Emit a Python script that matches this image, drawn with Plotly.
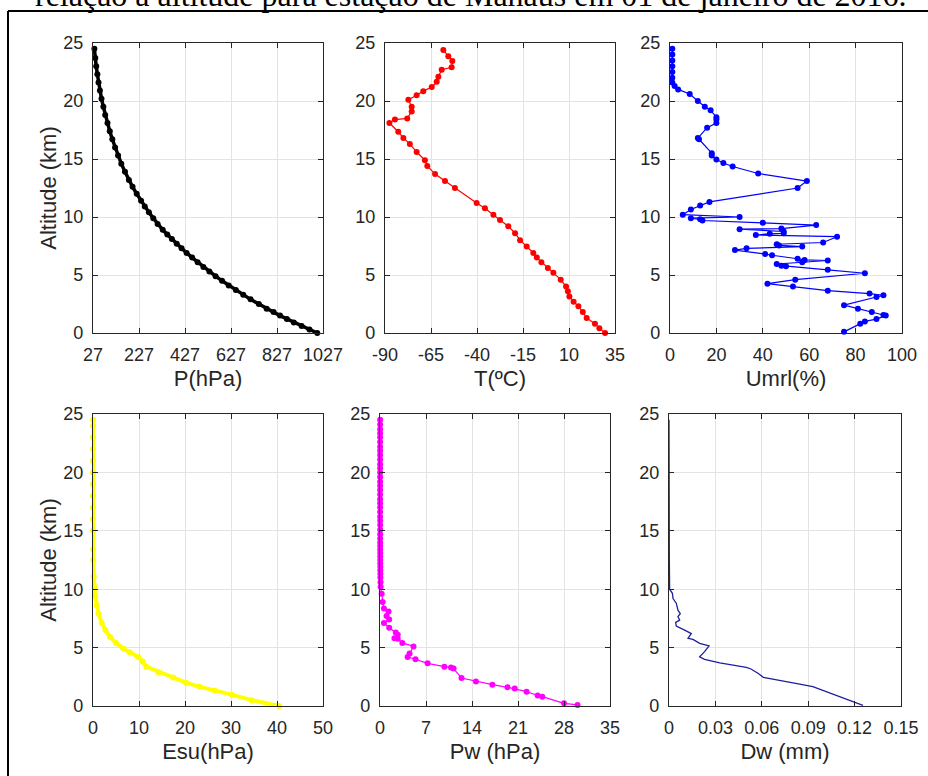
import plotly.graph_objects as go

W, H = 928, 776

# ---------------- data ----------------
p_alt = [0.0, 0.3, 0.6, 0.9, 1.2, 1.5, 1.8, 2.1, 2.5, 2.9, 3.3, 3.7, 4.1, 4.5, 4.9, 5.3, 5.7, 6.1,
         6.5, 6.9, 7.3, 7.7, 8.1, 8.5, 8.9, 9.4, 9.9, 10.4, 10.9, 11.4, 12.0, 12.6, 13.2, 13.9,
         14.6, 15.3, 16.0, 16.7, 17.4, 18.1, 18.8, 19.5, 20.2, 20.9, 21.6, 22.3, 23.0, 23.7, 24.5]
p_hpa = [1002, 968, 934, 900, 870, 840, 812, 782, 748, 712, 680, 648, 617, 588, 560, 533, 507, 482,
         458, 434, 412, 391, 370, 350, 330, 308, 289, 270, 252, 236, 217, 199, 183, 166,
         150, 136, 123, 111, 100, 90, 80, 72, 64, 57, 51, 46, 41, 37, 33]

t_alt = [0.0, 0.4, 0.8, 1.3, 1.8, 2.3, 2.7, 3.15, 3.6, 4.0, 4.6, 5.2, 5.6, 6.1, 6.5, 6.9, 7.45,
         8.0, 8.6, 9.2, 9.75, 10.2, 10.75, 11.2, 12.5, 13.1, 13.7, 14.4, 14.9, 15.6, 16.3, 16.8,
         17.35, 18.1, 18.4, 18.5, 19.1, 19.5, 20.1, 20.5, 20.85, 21.2, 21.65, 22.1, 22.7, 22.9,
         23.45, 23.85, 24.4]
t_c = [29.6, 26.5, 24.1, 19.6, 17.5, 15.1, 12.5, 10.2, 9.4, 8.4, 5.5, 1.5, -1.5, -5.0, -7.5, -9.4, -13.0,
       -16.6, -19.3, -23.0, -27.5, -31.1, -35.7, -40.2, -52.0, -57.4, -62.8, -67.0, -68.3, -72.8, -76.5, -80.0,
       -82.8, -87.6, -84.6, -77.9, -75.5, -75.5, -77.3, -72.8, -69.2, -64.6, -61.9, -61.0, -59.2, -53.8,
       -53.4, -55.6, -58.3]

u_alt = [0.1, 0.8, 1.0, 1.2, 1.5, 1.55, 1.8, 2.1, 2.4, 3.1, 3.25, 3.4, 3.65, 4.0, 4.25, 4.6, 5.15,
         5.45, 5.75, 5.8, 5.95, 6.1, 6.25, 6.3, 6.4, 6.7, 6.8, 7.15, 7.3, 7.45, 7.55, 7.65, 7.8, 8.3,
         8.45, 8.55, 8.6, 8.75, 8.95, 9.0, 9.3, 9.5, 9.7, 9.8, 9.9, 10.0, 10.2, 10.65, 11.0, 11.3,
         12.5, 13.1, 13.75, 14.35, 14.65, 14.95, 15.3, 15.5, 16.7, 16.8, 17.7, 18.1, 18.4, 18.6,
         19.2, 19.5, 20.0, 20.6, 21.0, 21.3, 21.6, 22.0, 22.5, 23.0, 23.5, 24.0, 24.5]
u_pct = [75, 82, 84, 89, 93, 92, 87, 81, 75, 89, 92, 86, 68, 53, 42, 54, 84,
         68, 50, 48, 46, 57, 68, 58, 55, 44, 41, 28, 33, 57, 47, 46, 66, 72,
         37, 43, 49, 49, 30, 48, 63, 40, 14, 13, 9, 30, 5.5, 9, 13, 17,
         55, 59, 38, 27, 23, 20, 18, 18, 12.5, 12, 16, 20, 20, 20,
         17.5, 15, 12, 8.5, 3.5, 2, 1, 1, 1, 1, 1, 1, 1]

e_alt = [0.0, 0.5, 0.95, 1.3, 1.66, 2.0, 2.45, 2.9, 3.37, 3.8, 4.2, 4.6, 4.9, 5.4, 5.9, 6.5, 7.1,
         7.9, 8.6, 9.4, 10.2, 11.1, 12.5, 13.4, 15.0, 16.0, 17.0, 18.0, 19.0, 20.0, 21.0, 22.0,
         23.0, 24.0, 24.5]
e_hpa = [40.5, 34.5, 30.3, 26.5, 23.1, 20.2, 17.4, 14.2, 11.6, 10.8, 9.8, 8.0, 6.6, 5.0, 3.7, 2.7, 1.9,
         1.2, 0.8, 0.5, 0.3, 0.15, 0.08, 0.05, 0.03, 0.02, 0.01, 0.01, 0.01, 0.02, 0.02, 0.03,
         0.03, 0.03, 0.03]

w_alt = [0.09, 0.23, 0.8, 0.9, 1.23, 1.5, 1.6, 1.83, 2.1, 2.4, 3.2, 3.3, 3.37, 3.65, 4.0, 4.2, 4.5,
         5.1, 5.4, 5.75, 5.8, 6.1, 6.3, 6.7, 7.1, 7.4, 7.7, 8.1, 8.35, 8.9, 9.6, 10.2, 10.6, 11.0,
         11.3, 11.6, 11.9, 12.2, 12.5, 12.8, 13.1, 13.4, 13.7, 14.0, 14.35, 14.7, 15.1, 15.5, 15.85,
         16.2, 16.6, 17.0, 17.35, 17.7, 18.1, 18.5, 18.85, 19.2, 19.6, 20.0, 20.35, 20.7, 21.1,
         21.5, 21.85, 22.2, 22.6, 23.0, 23.35, 23.7, 24.1, 24.5]
w_hpa = [30.06, 28.0, 24.7, 24.0, 22.3, 20.5, 19.4, 17.1, 14.6, 12.4, 11.2, 10.8, 9.8, 7.25, 5.4, 4.2, 4.5,
         5.1, 3.4, 2.7, 2.2, 2.7, 2.4, 1.4, 0.6, 1.4, 1.0, 1.3, 0.6, 0.4, 0.25, 0.1, 0.08, 0.06,
         0.06, 0.05, 0.05, 0.04, 0.04, 0.04, 0.04, 0.03, 0.03, 0.03, 0.03, 0.03, 0.03, 0.03, 0.03,
         0.02, 0.02, 0.02, 0.02, 0.02, 0.02, 0.02, 0.02, 0.02, 0.02, 0.02, 0.02, 0.02, 0.02,
         0.02, 0.02, 0.02, 0.02, 0.02, 0.02, 0.02, 0.02, 0.02]

d_alt = [0.06, 0.37, 0.8, 1.37, 1.66, 1.88, 2.23, 2.45, 2.8, 3.17, 3.3, 3.7, 4.0, 4.22, 4.65, 5.14,
         5.37, 5.7, 5.8, 6.2, 6.5, 6.85, 7.16, 7.35, 7.65, 7.9, 8.2, 8.8, 9.2, 9.65, 10.0, 12.8, 24.5]
d_mm = [0.1254, 0.119, 0.110, 0.0996, 0.093, 0.0845, 0.069, 0.061, 0.0575, 0.053, 0.050, 0.0328,
        0.023, 0.0198, 0.023, 0.0259, 0.0198, 0.0155, 0.0123, 0.0144, 0.0101, 0.0047, 0.0043,
        0.0069, 0.0058, 0.0073, 0.0058, 0.0047, 0.0026, 0.0022, 0.0004, 0.0002, 0.0]

alt_ticks = [0, 5, 10, 15, 20, 25]
p_ticks = [27, 227, 427, 627, 827, 1027]
t_ticks = [-90, -65, -40, -15, 10, 35]
t_tick_text = ["-90", "-65", "-40", "-15", "10", "35"]
u_ticks = [0, 20, 40, 60, 80, 100]
e_ticks = [0, 10, 20, 30, 40, 50]
w_ticks = [0, 7, 14, 21, 28, 35]
d_ticks = [0, 0.03, 0.06, 0.09, 0.12, 0.15]
d_tick_text = ["0", "0.03", "0.06", "0.09", "0.12", "0.15"]

title_text = "relação à altitude para estação de Manaus em 01 de janeiro de 2016."

# ---------------- figure ----------------
fig = go.Figure()

AX = "#262626"
GRID = "#e3e3e3"
TICK_FONT = dict(family="Liberation Sans, Arial, sans-serif", size=18, color=AX)
TITLE_FONT = dict(family="Liberation Sans, Arial, sans-serif", size=22, color=AX)

# pixel boxes (left, right, top, bottom)
boxes = [
    (93, 323, 43, 333), (385, 615, 43, 333), (670, 902, 43, 333),
    (93, 323, 414, 706), (380, 610, 414, 706), (669, 901, 414, 706),
]

panels = [
    dict(x=p_hpa, y=p_alt, color="#000000", lw=3.5, ms=6, mode="lines+markers",
         rng=[27, 1027], tv=p_ticks, tt=None, title="P(hPa)", ytitle=True),
    dict(x=t_c, y=t_alt, color="#ff0000", lw=1.2, ms=6, mode="lines+markers",
         rng=[-90, 35], tv=t_ticks, tt=t_tick_text, title="T(ºC)", ytitle=False),
    dict(x=u_pct, y=u_alt, color="#0000ff", lw=1.2, ms=6, mode="lines+markers",
         rng=[0, 100], tv=u_ticks, tt=None, title="Umrl(%)", ytitle=False),
    dict(x=e_hpa, y=e_alt, color="#ffff00", lw=4, ms=6, mode="lines+markers",
         rng=[0, 50], tv=e_ticks, tt=None, title="Esu(hPa)", ytitle=True),
    dict(x=w_hpa, y=w_alt, color="#ff00ff", lw=1.2, ms=6, mode="lines+markers",
         rng=[0, 35], tv=w_ticks, tt=None, title="Pw (hPa)", ytitle=False),
    dict(x=d_mm, y=d_alt, color="#1f1f9e", lw=1.3, ms=0, mode="lines",
         rng=[0, 0.15], tv=d_ticks, tt=d_tick_text, title="Dw (mm)", ytitle=False),
]

for i, (pn, bx) in enumerate(zip(panels, boxes), start=1):
    xa = "x" if i == 1 else f"x{i}"
    ya = "y" if i == 1 else f"y{i}"
    tr = dict(x=pn["x"], y=pn["y"], mode=pn["mode"], xaxis=xa, yaxis=ya,
              line=dict(color=pn["color"], width=pn["lw"]), showlegend=False,
              cliponaxis=False)
    if pn["ms"]:
        tr["marker"] = dict(color=pn["color"], size=pn["ms"])
    fig.add_trace(go.Scatter(**tr))

    l, r, t, b = bx
    xkey = "xaxis" if i == 1 else f"xaxis{i}"
    ykey = "yaxis" if i == 1 else f"yaxis{i}"
    xaxis = dict(domain=[l / W, r / W], anchor=ya, range=pn["rng"], tickmode="array",
                 tickvals=pn["tv"], showgrid=True, gridcolor=GRID, gridwidth=1,
                 zeroline=False, showline=True, linecolor=AX, linewidth=1.2, mirror="ticks",
                 ticks="inside", ticklen=5, tickcolor=AX, tickfont=TICK_FONT,
                 ticklabelstandoff=5, automargin=False,
                 title=dict(text=pn["title"], font=TITLE_FONT, standoff=6))
    if pn["tt"] is not None:
        xaxis["ticktext"] = pn["tt"]
    yaxis = dict(domain=[1 - b / H, 1 - t / H], anchor=xa, range=[0, 25], tickmode="array",
                 tickvals=alt_ticks, showgrid=True, gridcolor=GRID, gridwidth=1,
                 zeroline=False, showline=True, linecolor=AX, linewidth=1.2, mirror="ticks",
                 ticks="inside", ticklen=5, tickcolor=AX, tickfont=TICK_FONT,
                 ticklabelstandoff=5, automargin=False)
    if pn["ytitle"]:
        yaxis["title"] = dict(text="Altitude (km)", font=TITLE_FONT, standoff=0)
    fig.layout[xkey] = xaxis
    fig.layout[ykey] = yaxis

# figure caption (cut at the top, as in the reference) and frame lines
fig.add_annotation(text=title_text, xref="paper", yref="paper", x=471 / W, y=1 - 15 / H,
                   xanchor="center", yanchor="bottom", showarrow=False,
                   font=dict(family="Liberation Serif, Times New Roman, serif", size=32,
                             color="#000000"))
fig.add_shape(type="line", xref="paper", yref="paper", x0=8 / W, x1=1.02,
              y0=1 - 11 / H, y1=1 - 11 / H, line=dict(color="#000000", width=2))
fig.add_shape(type="line", xref="paper", yref="paper", x0=8 / W, x1=8 / W,
              y0=1 - 11 / H, y1=-0.02, line=dict(color="#000000", width=2))

fig.update_layout(width=W, height=H, margin=dict(l=0, r=0, t=0, b=0, autoexpand=False),
                  paper_bgcolor="#ffffff", plot_bgcolor="#ffffff")

fig.write_html("out.html", config={"displayModeBar": False},
               post_script="document.body.style.margin='0';document.body.style.overflow='hidden';")
